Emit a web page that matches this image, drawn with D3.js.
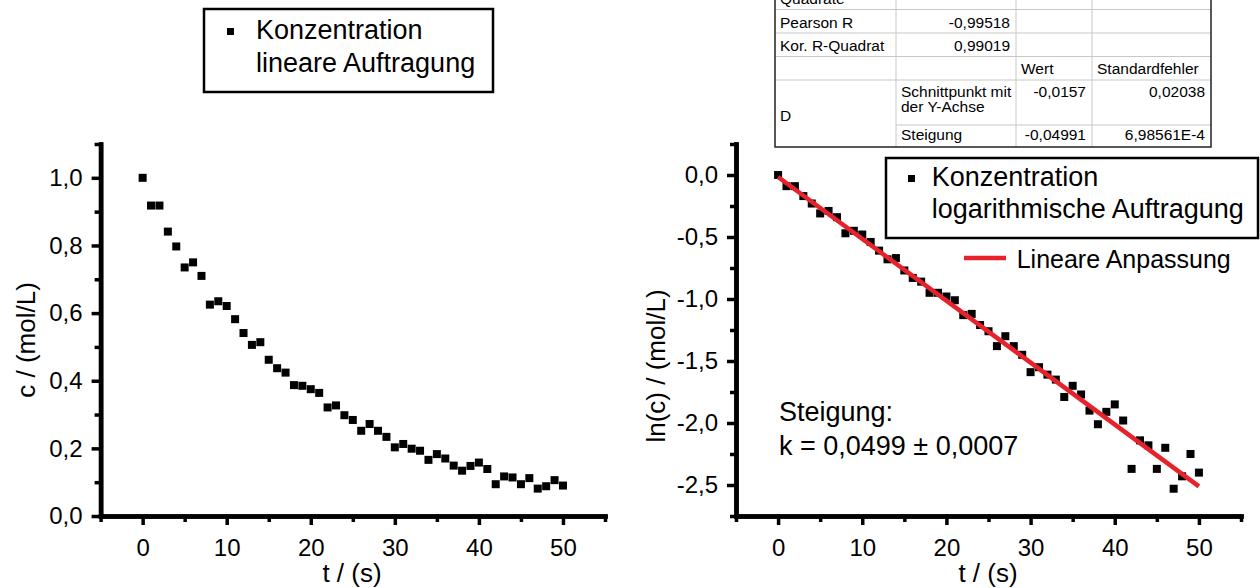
<!DOCTYPE html>
<html>
<head>
<meta charset="utf-8">
<script src="https://cdn.jsdelivr.net/npm/d3@7"></script>
<style>
    body { margin: 0; background: #fff; }
    svg { display: block; font-family: "Liberation Sans", Arial, sans-serif; }
</style>
</head>
<body>
<svg id="chart" width="1260" height="588"></svg>
<script>
// Messzeitpunkte (s)
const timeS = [0, 1, 2, 3, 4, 5, 6, 7, 8, 9, 10, 11, 12, 13, 14, 15, 16, 17, 18, 19, 20,
    21, 22, 23, 24, 25, 26, 27, 28, 29, 30, 31, 32, 33, 34, 35, 36, 37, 38, 39, 40,
    41, 42, 43, 44, 45, 46, 47, 48, 49, 50];

// Konzentration, lineare Auftragung (mol/L)
const concLinear = [1.000, 0.918, 0.918, 0.841, 0.797, 0.735, 0.750, 0.710, 0.625, 0.635, 0.621,
    0.582, 0.541, 0.506, 0.514, 0.462, 0.437, 0.424, 0.387, 0.385, 0.375,
    0.364, 0.321, 0.327, 0.298, 0.284, 0.252, 0.272, 0.252, 0.234, 0.203,
    0.213, 0.199, 0.193, 0.166, 0.183, 0.170, 0.149, 0.134, 0.148, 0.158,
    0.139, 0.094, 0.117, 0.114, 0.094, 0.112, 0.081, 0.088, 0.106, 0.090];

// Konzentration, logarithmische Auftragung ln(c)
const concLog = [0.00, -0.09, -0.09, -0.17, -0.23, -0.31, -0.29, -0.34, -0.47, -0.45, -0.48,
    -0.54, -0.61, -0.68, -0.67, -0.77, -0.83, -0.86, -0.95, -0.95, -0.98,
    -1.01, -1.13, -1.12, -1.21, -1.26, -1.38, -1.30, -1.38, -1.45, -1.59,
    -1.55, -1.61, -1.65, -1.79, -1.70, -1.77, -1.90, -2.01, -1.91, -1.85,
    -1.98, -2.37, -2.14, -2.18, -2.37, -2.20, -2.53, -2.43, -2.25, -2.40];

// Lineare Anpassung
const fitIntercept = -0.0157;
const fitSlope = -0.04991;
const fitRange = [0, 50];

// Achsen
const timeMajor = [0, 10, 20, 30, 40, 50];
const timeMinor = [-5, 5, 15, 25, 35, 45, 55];
const linMajor = [0, 0.2, 0.4, 0.6, 0.8, 1.0];
const linMinor = [0.1, 0.3, 0.5, 0.7, 0.9, 1.1];
const logMajor = [0, -0.5, -1.0, -1.5, -2.0, -2.5];
const logMinor = [0.25, -0.25, -0.75, -1.25, -1.75, -2.25, -2.75];

// Tabelle
const tableTopRow = ['Quadrate', '', '', ''];
const tableRows = [
    ['Pearson R', '-0,99518', '', ''],
    ['Kor. R-Quadrat', '0,99019', '', ''],
    ['', '', 'Wert', 'Standardfehler']
];
const tableFitLabels = ['D', 'Schnittpunkt mit|der Y-Achse', 'Steigung'];
const tableFitValues = [['-0,0157', '0,02038'], ['-0,04991', '6,98561E-4']];

const svg = d3.select('#chart');
const de = d3.formatLocale({ decimal: ',', thousands: '.', grouping: [3], currency: ['', ' €'], minus: '-' });
const fmt1 = de.format('.1f');
const RED = '#e8222a';

// Achsen zeichnen
function drawAxes(g, x, y, yMajor, yMinor) {
    const bottom = y.range()[0];
    const left = x.range()[0];

    g.append('g').attr('transform', `translate(0,${bottom})`)
        .call(d3.axisBottom(x).tickValues(timeMinor).tickSize(6).tickSizeOuter(0).tickFormat(''));
    g.append('g').attr('transform', `translate(0,${bottom})`)
        .call(d3.axisBottom(x).tickValues(timeMajor).tickSize(9).tickSizeOuter(0).tickPadding(14).tickFormat(d3.format('d')));

    g.append('g').attr('transform', `translate(${left},0)`)
        .call(d3.axisLeft(y).tickValues(yMinor).tickSize(6).tickSizeOuter(0).tickFormat(''));
    g.append('g').attr('transform', `translate(${left},0)`)
        .call(d3.axisLeft(y).tickValues(yMajor).tickSize(9).tickSizeOuter(0).tickPadding(9).tickFormat(fmt1));

    g.selectAll('.domain').style('stroke', '#000').style('stroke-width', '4.5px').style('stroke-linecap', 'square');
    g.selectAll('.tick line').style('stroke', '#000').style('stroke-width', '3.5px');
    g.selectAll('.tick text').attr('fill', '#000').style('font-size', '24px')
        .style('font-family', '"Liberation Sans", Arial, sans-serif');
}

function drawMarkers(g, x, y, values) {
    g.selectAll('rect.pt')
        .data(timeS.map((t, i) => ({ t: t, v: values[i] })))
        .enter()
        .append('rect')
        .attr('class', 'pt')
        .attr('x', d => x(d.t) - 4)
        .attr('y', d => y(d.v) - 4)
        .attr('width', 8)
        .attr('height', 8)
        .attr('fill', '#000');
}

function label(x, y, text, size, anchor) {
    return svg.append('text')
        .attr('x', x).attr('y', y)
        .attr('font-size', size)
        .attr('text-anchor', anchor || 'start')
        .attr('fill', '#000')
        .text(text);
}

// ---------- linke Grafik ----------
const xL = d3.scaleLinear().domain([-5, 55]).range([100.6, 605]);
const yL = d3.scaleLinear().domain([0, 1.1]).range([516, 144]);
const gL = svg.append('g');
drawAxes(gL, xL, yL, linMajor, linMinor);
drawMarkers(gL, xL, yL, concLinear);

label(352, 582, 't / (s)', 26, 'middle');
svg.append('text')
    .attr('transform', 'translate(35,340) rotate(-90)')
    .attr('font-size', 26).attr('text-anchor', 'middle')
    .text('c / (mol/L)');

// Legende links
svg.append('rect').attr('x', 204).attr('y', 9).attr('width', 289).attr('height', 83)
    .attr('fill', '#fff').attr('stroke', '#000').attr('stroke-width', 2.5);
svg.append('rect').attr('x', 227).attr('y', 28).attr('width', 7).attr('height', 7).attr('fill', '#000');
label(256, 39, 'Konzentration', 27);
label(256, 72, 'lineare Auftragung', 27);

// ---------- rechte Grafik ----------
const xR = d3.scaleLinear().domain([-5, 55]).range([736, 1241]);
const yR = d3.scaleLinear().domain([-2.75, 0.25]).range([516, 144]);
const gR = svg.append('g');
drawAxes(gR, xR, yR, logMajor, logMinor);
drawMarkers(gR, xR, yR, concLog);

gR.append('line')
    .attr('x1', xR(fitRange[0])).attr('y1', yR(fitIntercept + fitSlope * fitRange[0]))
    .attr('x2', xR(fitRange[1])).attr('y2', yR(fitIntercept + fitSlope * fitRange[1]))
    .attr('stroke', RED).attr('stroke-width', 4.5);

label(988, 582, 't / (s)', 26, 'middle');
svg.append('text')
    .attr('transform', 'translate(665,366) rotate(-90)')
    .attr('font-size', 26).attr('text-anchor', 'middle')
    .text('ln(c) / (mol/L)');

label(779, 421, 'Steigung:', 27);
label(779, 455, 'k = 0,0499 ± 0,0007', 27);

// Legende rechts
svg.append('rect').attr('x', 886).attr('y', 158).attr('width', 372).attr('height', 80)
    .attr('fill', '#fff').attr('stroke', '#000').attr('stroke-width', 2.5);
svg.append('rect').attr('x', 908).attr('y', 175).attr('width', 7).attr('height', 7).attr('fill', '#000');
label(931.7, 186, 'Konzentration', 27);
label(931.7, 218, 'logarithmische Auftragung', 27);
svg.append('line').attr('x1', 964).attr('x2', 1006).attr('y1', 258).attr('y2', 258)
    .attr('stroke', RED).attr('stroke-width', 4.5);
label(1016.7, 268, 'Lineare Anpassung', 25);

// ---------- Tabelle ----------
const tab = svg.append('g').attr('font-size', 15.5);
const colX = [775, 896, 1016, 1092, 1211];
const rowY = [0, 9.5, 33, 56.5, 80, 125, 147];
const GRID = '#c8c8c8';

colX.slice(1, 4).forEach(cx => {
    tab.append('line').attr('x1', cx).attr('x2', cx).attr('y1', 0).attr('y2', 147)
        .attr('stroke', GRID).attr('stroke-width', 1);
});
rowY.slice(1, 5).forEach(ry => {
    tab.append('line').attr('x1', 775).attr('x2', 1211).attr('y1', ry).attr('y2', ry)
        .attr('stroke', GRID).attr('stroke-width', 1);
});
tab.append('line').attr('x1', 896).attr('x2', 1211).attr('y1', rowY[5]).attr('y2', rowY[5])
    .attr('stroke', GRID).attr('stroke-width', 1);
tab.append('path')
    .attr('d', `M${colX[0]},0 V${rowY[6]} H${colX[4]} V0`)
    .attr('fill', 'none').attr('stroke', '#222').attr('stroke-width', 1.5);

function cell(text, col, baseline, align) {
    const x = align === 'end' ? colX[col + 1] - 6 : colX[col] + 5;
    tab.append('text').attr('x', x).attr('y', baseline)
        .attr('text-anchor', align || 'start').attr('fill', '#000').text(text);
}

cell(tableTopRow[0], 0, 4);
const rowBase = [28.3, 51, 74];
tableRows.forEach((row, r) => {
    cell(row[0], 0, rowBase[r]);
    cell(row[1], 1, rowBase[r], 'end');
    cell(row[2], 2, rowBase[r]);
    cell(row[3], 3, rowBase[r]);
});
cell(tableFitLabels[0], 0, 120.5);
tableFitLabels[1].split('|').forEach((t, i) => cell(t, 1, 97 + i * 14.7));
cell(tableFitLabels[2], 1, 140);
tableFitValues.forEach((vals, i) => {
    const b = i === 0 ? 97 : 140;
    cell(vals[0], 2, b, 'end');
    cell(vals[1], 3, b, 'end');
});
</script>
</body>
</html>
